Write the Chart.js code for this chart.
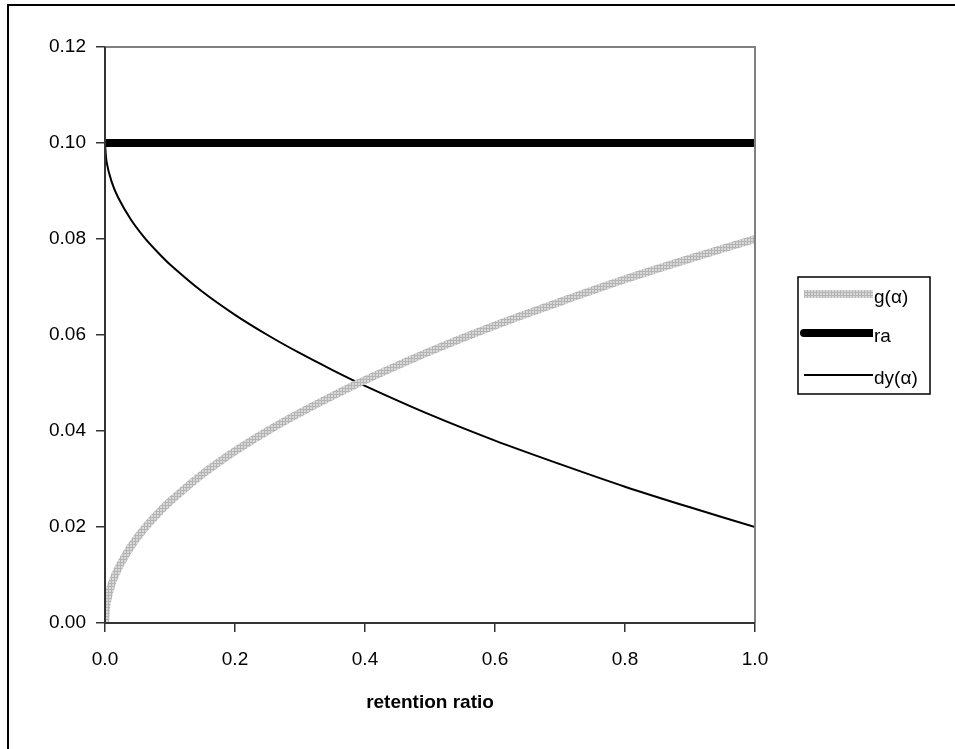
<!DOCTYPE html>
<html>
<head>
<meta charset="utf-8">
<script src="https://cdn.jsdelivr.net/npm/chart.js@4.4.0/dist/chart.umd.min.js"></script>
<style>
  html, body { margin: 0; padding: 0; background: #fff; }
  #wrap { width: 955px; height: 749px; }
</style>
</head>
<body>
<div id="wrap"><canvas id="chart" width="955" height="749"></canvas></div>
<script>
// Values
const alpha = [0, 0.0025, 0.01, 0.02, 0.04, 0.06, 0.08, 0.1, 0.15, 0.2, 0.25, 0.3, 0.35, 0.4, 0.5, 0.6, 0.7, 0.8, 0.9, 1.0];
const gValues = [0, 0.004, 0.008, 0.0113, 0.016, 0.0196, 0.0226, 0.0253, 0.031, 0.0358, 0.04, 0.0438, 0.0473, 0.0506, 0.0566, 0.062, 0.0669, 0.0716, 0.0759, 0.08];
const raValues = [0.1, 0.1, 0.1, 0.1, 0.1, 0.1, 0.1, 0.1, 0.1, 0.1, 0.1, 0.1, 0.1, 0.1, 0.1, 0.1, 0.1, 0.1, 0.1, 0.1];
const dyValues = [0.1, 0.096, 0.092, 0.0887, 0.084, 0.0804, 0.0774, 0.0747, 0.069, 0.0642, 0.06, 0.0562, 0.0527, 0.0494, 0.0434, 0.038, 0.0331, 0.0284, 0.0241, 0.02];
const seriesNames = ['g(\u03b1)', 'ra', 'dy(\u03b1)'];
const xTitle = 'retention ratio';

const FONT = '"Liberation Sans", Arial, sans-serif';

function pts(vals) {
    return alpha.map((a, i) => ({ x: a, y: vals[i] }));
}

// hatched grey, like the old Excel line pattern
function greyPattern() {
    const c = document.createElement('canvas');
    c.width = 3; c.height = 3;
    const p = c.getContext('2d');
    p.fillStyle = '#d8d8d8';
    p.fillRect(0, 0, 3, 3);
    p.fillStyle = '#b4b4b4';
    p.fillRect(0, 0, 1, 3);
    p.fillRect(0, 1, 3, 1);
    return p.createPattern(c, 'repeat');
}

// Frame, plot border and legend drawn by hand
const framePlugin = {
    id: 'frame',
    beforeDraw(chart) {
        const ctx = chart.ctx;
        ctx.save();
        ctx.strokeStyle = '#000';
        ctx.lineWidth = 2;
        ctx.strokeRect(8, 5, 1000, 1000);
        ctx.restore();
    },
    afterDatasetsDraw(chart) {
        const ctx = chart.ctx;
        const a = chart.chartArea;
        ctx.save();
        // grey top / right border
        ctx.strokeStyle = '#808080';
        ctx.lineWidth = 2;
        ctx.beginPath();
        ctx.moveTo(a.left, a.top);
        ctx.lineTo(a.right, a.top);
        ctx.lineTo(a.right, a.bottom);
        ctx.stroke();
        // dark left / bottom axes
        ctx.strokeStyle = '#333';
        ctx.beginPath();
        ctx.moveTo(a.left, a.top);
        ctx.lineTo(a.left, a.bottom);
        ctx.lineTo(a.right, a.bottom);
        ctx.stroke();

        // legend
        const bx = 798, by = 277, bw = 132, bh = 117;
        ctx.fillStyle = '#fff';
        ctx.fillRect(bx, by, bw, bh);
        ctx.strokeStyle = '#000';
        ctx.lineWidth = 1.5;
        ctx.strokeRect(bx, by, bw, bh);
        const rows = [294, 333, 375];
        chart.data.datasets.forEach((ds, i) => {
            ctx.strokeStyle = ds.borderColor;
            ctx.lineWidth = ds.borderWidth;
            ctx.lineCap = 'butt';
            ctx.beginPath();
            ctx.moveTo(bx + 6, rows[i]);
            ctx.lineTo(bx + 75, rows[i]);
            ctx.stroke();
            if (i === 1) {
                // rounded left end of the thick sample
                ctx.fillStyle = ds.borderColor;
                ctx.beginPath();
                ctx.arc(bx + 6, rows[i], ds.borderWidth / 2, Math.PI / 2, Math.PI * 1.5);
                ctx.fill();
            }
            ctx.fillStyle = '#000';
            ctx.font = '19px ' + FONT;
            ctx.textBaseline = 'middle';
            ctx.fillText(seriesNames[i], bx + 76, rows[i] + 4);
        });
        ctx.restore();
    }
};

new Chart(document.getElementById('chart').getContext('2d'), {
    type: 'line',
    data: {
        datasets: [
            { label: seriesNames[0], data: pts(gValues), borderColor: greyPattern(), borderWidth: 8, pointRadius: 0, tension: 0.3, fill: false },
            { label: seriesNames[1], data: pts(raValues), borderColor: '#000', borderWidth: 8, pointRadius: 0, tension: 0, fill: false },
            { label: seriesNames[2], data: pts(dyValues), borderColor: '#000', borderWidth: 2, pointRadius: 0, tension: 0.3, fill: false }
        ]
    },
    options: {
        responsive: false,
        animation: false,
        layout: { padding: { top: 47, right: 200, left: 0, bottom: 0 } },
        plugins: {
            legend: { display: false },
            tooltip: { enabled: false }
        },
        scales: {
            x: {
                type: 'linear',
                min: 0, max: 1,
                border: { display: false },
                grid: { drawOnChartArea: false, drawTicks: true, tickLength: 9, color: '#333', lineWidth: 1.5 },
                ticks: { stepSize: 0.2, color: '#000', font: { family: FONT, size: 19 }, padding: 16,
                    callback: v => v.toFixed(1) },
                title: { display: true, text: xTitle, color: '#000', font: { family: FONT, size: 19, weight: 'bold' }, padding: { top: 4, bottom: 35 } },
                afterFit(scale) { scale.height = 126; }
            },
            y: {
                min: 0, max: 0.12,
                border: { display: false },
                grid: { drawOnChartArea: false, drawTicks: true, tickLength: 9, color: '#333', lineWidth: 1.5 },
                ticks: { stepSize: 0.02, color: '#000', font: { family: FONT, size: 19 }, padding: 10,
                    callback: v => v.toFixed(2) },
                afterFit(scale) { scale.width = 105; }
            }
        }
    },
    plugins: [framePlugin]
});
</script>
</body>
</html>
